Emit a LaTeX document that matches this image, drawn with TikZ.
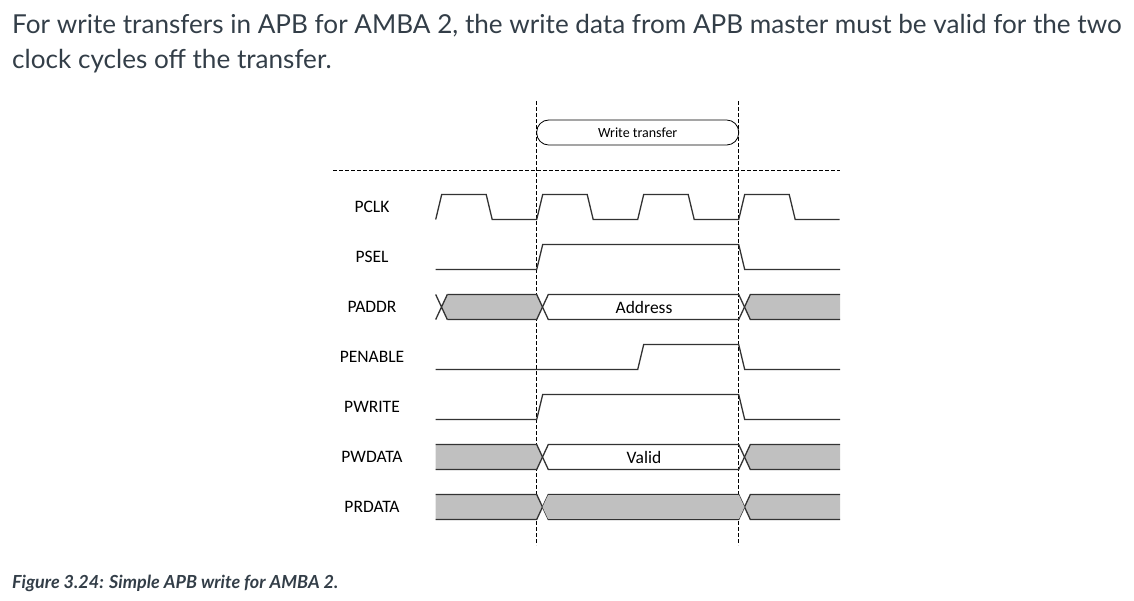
\documentclass[tikz,border=0pt]{standalone}
\usepackage{fontspec}
\setmainfont{Lato}
\newfontfamily\calibri{Carlito}
\usetikzlibrary{positioning}
\definecolor{armtext}{HTML}{333E48}
\definecolor{busgray}{HTML}{C0C0C0}
\definecolor{wave}{HTML}{333333}

\begin{document}
\begin{tikzpicture}[x=1pt, y=-1pt,
  every node/.style = {align=center, inner sep=0pt},
  lbl/.style = {font=\calibri\fontsize{17.5}{20}\selectfont},
  sig/.style = {draw=wave, line width=1.3pt, line join=miter},
  bus/.style = {fill=busgray},
  guide/.style = {draw=black, line width=0.8pt, dash pattern=on 4pt off 2pt}]

\useasboundingbox (0,0) rectangle (1134,600);

% intro text and caption
\node[anchor=base west, text=armtext, font=\fontsize{26.1}{30}\selectfont] (intro) at (12,33.3)
  {For write transfers in APB for AMBA 2, the write data from APB master must be valid for the two};
\node[anchor=base west, text=armtext, font=\fontsize{26.1}{30}\selectfont] (introb) at (12,68.5)
  {clock cycles off the transfer.};
\node[anchor=base west, text=armtext, font=\bfseries\itshape\fontsize{18}{22}\selectfont] (caption) at (12,588.3)
  {Figure 3.24: Simple APB write for AMBA 2.};

% signal names
\foreach \name/\txt [count=\i from 0] in {pclk/PCLK, psel/PSEL, paddr/PADDR, penable/PENABLE, pwrite/PWRITE, pwdata/PWDATA, prdata/PRDATA}
  \node[lbl] (\name) at (372,207+50*\i) {\txt};

% guides
\draw[guide] (536.7,101) -- (536.7,545);
\draw[guide] (738.7,101) -- (738.7,545);
\draw[guide] (333,170) -- (840,170);
\node[draw=black, line width=0.8pt, rounded corners=12pt, minimum width=202pt, minimum height=25pt,
  font=\calibri\fontsize{14}{16}\selectfont] (wt) at (637.7,132.5) {Write transfer};

% PCLK
\draw[sig] (435.7,219.5) \foreach \t in {435.7,536.7,637.7,738.7} { -- (\t+6,194.5) -- (\t+50.5,194.5) -- (\t+56.5,219.5) -- (\t+101,219.5) };
% PSEL, PENABLE, PWRITE
\draw[sig] (435.7,269.5) -- (536.7,269.5) -- (542.7,244.5) -- (738.7,244.5) -- (744.7,269.5) -- (840,269.5);
\draw[sig] (435.7,369.5) -- (637.7,369.5) -- (643.7,344.5) -- (738.7,344.5) -- (744.7,369.5) -- (840,369.5);
\draw[sig] (435.7,419.5) -- (536.7,419.5) -- (542.7,394.5) -- (738.7,394.5) -- (744.7,419.5) -- (840,419.5);

% PADDR
\fill[bus] (441.5,307) -- (447.3,294.5) -- (536.7,294.5) -- (542.5,307) -- (536.7,319.5) -- (447.3,319.5) -- cycle;
\fill[bus] (744.5,307) -- (750.3,294.5) -- (840,294.5) -- (840,319.5) -- (750.3,319.5) -- cycle;
\draw[sig] (435.7,294.5) -- (447.3,319.5) (435.7,319.5) -- (447.3,294.5);
\draw[sig] (447.3,294.5) -- (536.7,294.5) -- (548.3,319.5) -- (738.7,319.5) -- (750.3,294.5) -- (840,294.5);
\draw[sig] (447.3,319.5) -- (536.7,319.5) -- (548.3,294.5) -- (738.7,294.5) -- (750.3,319.5) -- (840,319.5);
\node[lbl] (addr) at (644,307) {Address};

% PWDATA and PRDATA
\foreach \yc in {457,507} {
  \fill[bus] (435.7,\yc-12.5) -- (536.7,\yc-12.5) -- (542.5,\yc) -- (536.7,\yc+12.5) -- (435.7,\yc+12.5) -- cycle;
  \fill[bus] (744.5,\yc) -- (750.3,\yc-12.5) -- (840,\yc-12.5) -- (840,\yc+12.5) -- (750.3,\yc+12.5) -- cycle;
  \draw[sig] (435.7,\yc-12.5) -- (536.7,\yc-12.5) -- (548.3,\yc+12.5) -- (738.7,\yc+12.5) -- (750.3,\yc-12.5) -- (840,\yc-12.5);
  \draw[sig] (435.7,\yc+12.5) -- (536.7,\yc+12.5) -- (548.3,\yc-12.5) -- (738.7,\yc-12.5) -- (750.3,\yc+12.5) -- (840,\yc+12.5);
}
\fill[bus] (542.5,507) -- (548.3,494.5) -- (738.7,494.5) -- (744.5,507) -- (738.7,519.5) -- (548.3,519.5) -- cycle;
\draw[sig] (548.3,494.5) -- (738.7,494.5) (548.3,519.5) -- (738.7,519.5);
\node[lbl] (valid) at (644,457) {Valid};

\end{tikzpicture}
\end{document}
